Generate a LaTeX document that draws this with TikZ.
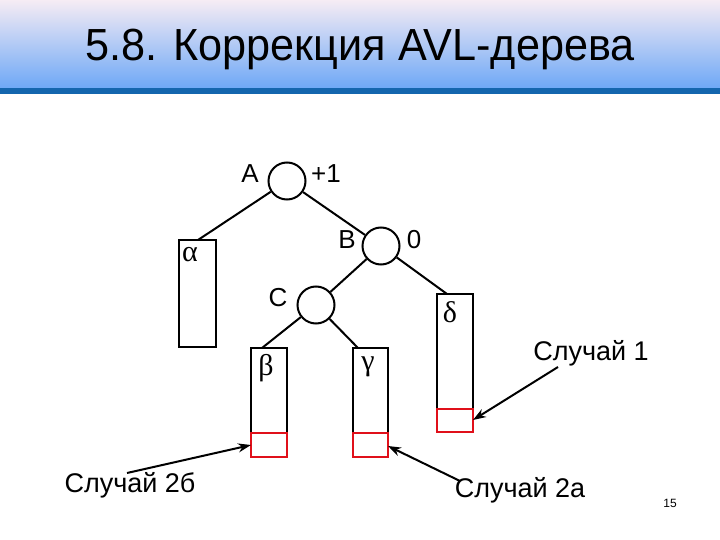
\documentclass[tikz,border=0pt]{standalone}
\usepackage{fontspec}
\setmainfont{Liberation Sans}
\newfontfamily\grk{Liberation Serif}
\newfontfamily\ttl[FakeStretch=0.96]{Liberation Sans}
\usetikzlibrary{arrows.meta}
\definecolor{hdtop}{HTML}{F6ECF4}
\definecolor{hdbot}{HTML}{6EA8F6}
\definecolor{band}{HTML}{1466AE}
\definecolor{boxred}{HTML}{E0101A}
\tikzset{
  vert/.style={circle,draw,line width=2pt,minimum size=37pt,inner sep=0pt},
  edge/.style={line width=2pt},
  sub/.style={draw,line width=1.6pt},
  newbox/.style={draw=boxred,line width=1.6pt},
  lbl/.style={font=\fontsize{26}{26}\selectfont,inner sep=0pt},
  glbl/.style={font=\grk\fontsize{30}{30}\selectfont,inner sep=0pt},
  case/.style={font=\fontsize{27}{27}\selectfont,inner sep=0pt},
  ptr/.style={line width=2pt,-{Stealth[length=13pt,width=9pt]}}
}
\begin{document}
\begin{tikzpicture}[x=1pt,y=-1pt]
\useasboundingbox (0,0) rectangle (720,540);
% header
\shade[top color=hdtop,bottom color=hdbot] (0,0) rectangle (720,88);
\fill[band] (0,88) rectangle (720,94);
\node[font=\ttl\fontsize{45}{45}\selectfont,inner sep=0pt,anchor=base] (title) at (360,61) {5.8. Коррекция AVL-дерева};
% vertices
\node[vert] (A) at (287,181) {};
\node[vert] (B) at (381,246) {};
\node[vert] (C) at (316,305) {};
\node[lbl] (lA) at (250,174) {A};
\node[lbl] (pA) at (326,174) {+1};
\node[lbl] (lB) at (347,240) {B};
\node[lbl] (pB) at (414,240) {0};
\node[lbl] (lC) at (278,298) {C};
% subtrees
\draw[sub] (179,240) rectangle (216,347);
\coordinate (alphaTop) at (198,240);
\node[glbl] (al) at (190,255) {α};
\draw[sub] (437,294) rectangle (473,409);
\draw[newbox] (437,409) rectangle (473,432);
\coordinate (deltaTop) at (447,294);
\coordinate (deltaRed) at (473,420);
\node[glbl] (de) at (450,312) {δ};
\draw[sub] (251,348) rectangle (287,433);
\draw[newbox] (251,433) rectangle (287,457);
\coordinate (betaTop) at (262,348);
\coordinate (betaRed) at (251,445);
\node[glbl] (be) at (266,368) {β};
\draw[sub] (353,348) rectangle (388,433);
\draw[newbox] (353,433) rectangle (388,457);
\coordinate (gammaTop) at (358,348);
\coordinate (gammaRed) at (388,446);
\node[glbl] (ga) at (368,367) {γ};
% edges
\draw[edge] (A) -- (alphaTop);
\draw[edge] (A) -- (B);
\draw[edge] (B) -- (C);
\draw[edge] (B) -- (deltaTop);
\draw[edge] (C) -- (betaTop);
\draw[edge] (C) -- (gammaTop);
% cases
\node[case] (c1) at (591,353) {Случай 1};
\node[case] (c2a) at (520,490) {Случай 2а};
\node[case] (c2b) at (130,485) {Случай 2б};
\coordinate (c1s) at (558,367);
\coordinate (c2as) at (460,481);
\coordinate (c2bs) at (127,473);
\draw[ptr] (c1s) -- (deltaRed);
\draw[ptr] (c2as) -- (gammaRed);
\draw[ptr] (c2bs) -- (betaRed);
\node[font=\fontsize{12}{12}\selectfont,inner sep=0pt] (pg) at (670,503) {15};
\end{tikzpicture}
\end{document}
